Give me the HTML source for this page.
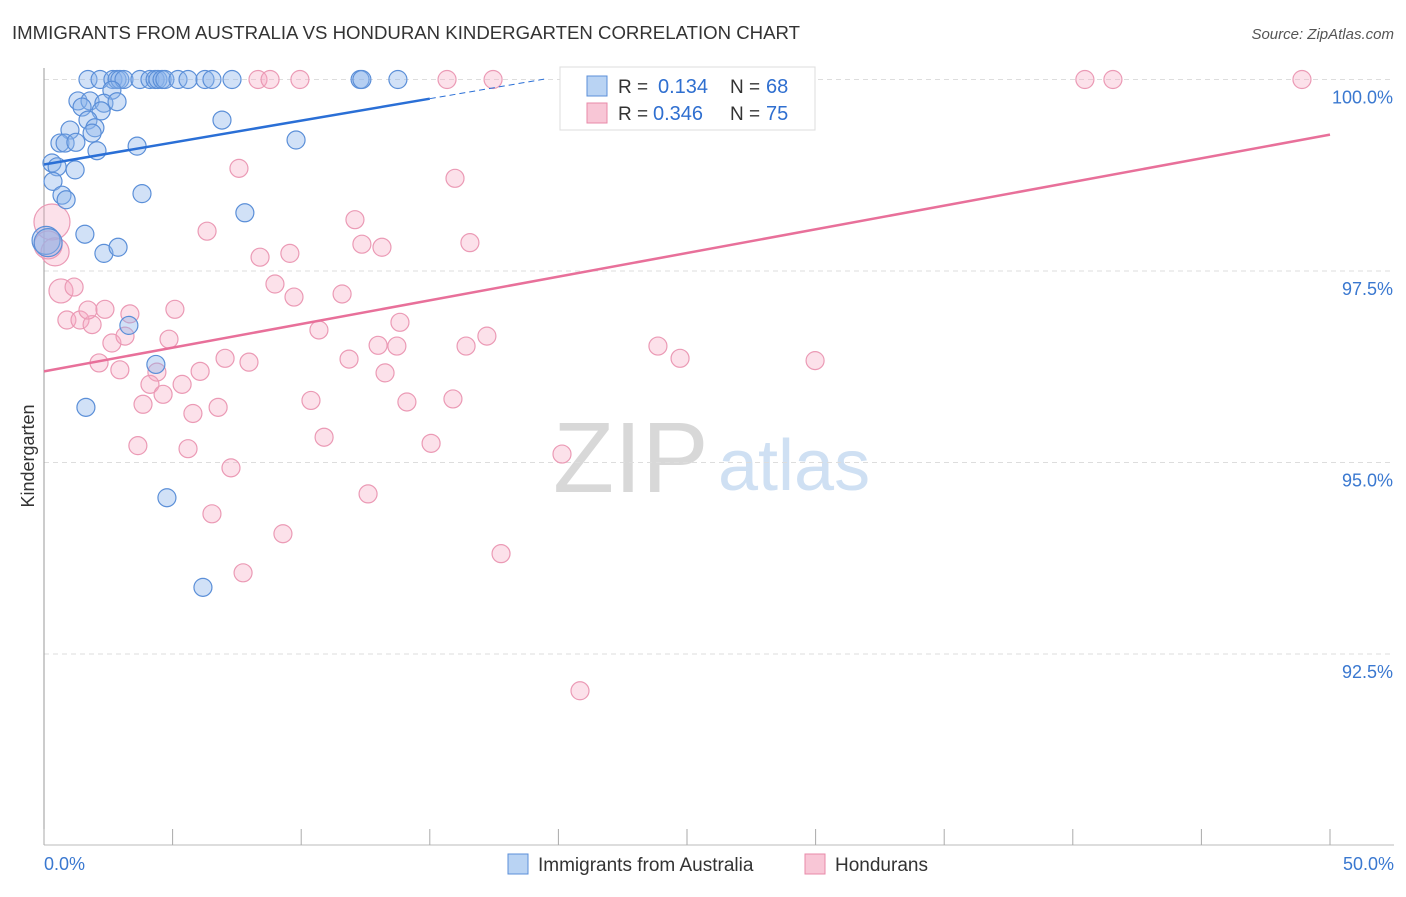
<!DOCTYPE html>
<html><head><meta charset="utf-8"><style>
body{margin:0;background:#fff;font-family:"Liberation Sans",sans-serif}
svg text{font-family:"Liberation Sans",sans-serif}
</style></head><body>
<svg id="c" width="1406" height="892">
<text x="12" y="39" font-size="18" fill="#333" textLength="788" lengthAdjust="spacingAndGlyphs">IMMIGRANTS FROM AUSTRALIA VS HONDURAN KINDERGARTEN CORRELATION CHART</text>
<text x="1394" y="39" font-size="15" fill="#555" font-style="italic" text-anchor="end">Source: ZipAtlas.com</text>
<text x="34" y="456" font-size="18" fill="#333" transform="rotate(-90 34 456)" text-anchor="middle">Kindergarten</text>
<g><text x="553" y="492" font-size="100" fill="#d8d8d8" font-family="Liberation Serif">ZIP</text><text x="718" y="490" font-size="72" fill="#cfe0f3">atlas</text></g>
<g id="grid"></g><g id="marks"></g>
<g>
<rect x="560" y="67" width="255" height="63" fill="#fff" stroke="#ddd"/>
<rect x="587" y="76" width="20" height="20" fill="#b9d3f3" stroke="#5b8fd8"/>
<rect x="587" y="103" width="20" height="20" fill="#f8c6d6" stroke="#e88aa8"/>
<text y="93" font-size="19" fill="#333"><tspan x="618">R =</tspan><tspan x="658" fill="#2f6fd0" font-size="20">0.134</tspan><tspan x="730">N =</tspan><tspan x="766" fill="#2f6fd0" font-size="20">68</tspan></text>
<text y="120" font-size="19" fill="#333"><tspan x="618">R =</tspan><tspan x="653" fill="#2f6fd0" font-size="20">0.346</tspan><tspan x="730">N =</tspan><tspan x="766" fill="#2f6fd0" font-size="20">75</tspan></text>
</g>
<g>
<rect x="508" y="854" width="20" height="20" fill="#b9d3f3" stroke="#5b8fd8"/>
<text x="538" y="871" font-size="19" fill="#333">Immigrants from Australia</text>
<rect x="805" y="854" width="20" height="20" fill="#f8c6d6" stroke="#e88aa8"/>
<text x="835" y="871" font-size="19" fill="#333">Hondurans</text>
</g>
</svg>
<script>
const yTicks=[100,97.5,95,92.5];
const yTickLabels=["100.0%","97.5%","95.0%","92.5%"];
const xEndLabels=["0.0%","50.0%"];
const blueX=[1.71,2.18,2.68,2.84,2.95,3.11,3.73,4.12,4.32,4.43,4.59,4.70,5.21,5.60,6.26,6.53,7.31,12.29,12.36,13.76,1.32,1.79,2.64,2.33,2.84,1.48,2.22,1.71,1.01,1.98,1.87,0.62,0.82,1.24,2.06,3.62,6.92,9.80,0.31,0.51,1.21,0.35,0.70,0.86,3.81,7.81,1.59,2.33,2.88,0.08,0.16,3.30,4.35,1.63,4.78,6.18];
const blueY=[100,100,100,100,100,100,100,100,100,100,100,100,100,100,100,100,100,100,100,100,99.72,99.72,99.86,99.69,99.71,99.64,99.59,99.47,99.34,99.37,99.30,99.17,99.17,99.18,99.07,99.13,99.47,99.21,98.91,98.86,98.82,98.67,98.49,98.43,98.51,98.26,97.98,97.73,97.81,97.90,97.87,96.79,96.28,95.72,94.54,93.37];
const pinkX=[8.32,8.79,9.95,15.67,17.46,28.23,40.47,41.56,48.91,0.31,0.43,0.16,7.58,15.98,6.34,12.09,12.36,13.14,16.56,8.40,9.56,8.98,9.72,11.59,0.66,1.17,0.89,1.40,1.87,1.71,2.37,3.34,5.09,2.64,3.15,4.86,10.69,13.84,17.22,12.99,13.72,16.41,23.87,24.73,29.98,2.14,2.95,4.39,6.07,7.04,7.97,11.86,13.26,4.12,5.37,3.85,4.63,5.79,6.77,10.38,14.11,15.90,3.65,5.60,10.89,15.05,20.14,7.27,12.60,6.53,9.29,17.77,7.74,20.84];
const pinkY=[100,100,100,100,100,100,100,100,100,98.14,97.75,97.84,98.84,98.71,98.02,98.17,97.85,97.81,97.87,97.68,97.73,97.33,97.16,97.20,97.24,97.29,96.86,96.86,96.80,96.99,97.00,96.94,97.00,96.56,96.65,96.61,96.73,96.83,96.65,96.53,96.52,96.52,96.52,96.36,96.33,96.30,96.21,96.18,96.19,96.36,96.31,96.35,96.17,96.02,96.02,95.76,95.89,95.64,95.72,95.81,95.79,95.83,95.22,95.18,95.33,95.25,95.11,94.93,94.59,94.33,94.07,93.81,93.56,92.02];
const blueLine=[98.89,0.0573];
const pinkLine=[96.19,0.0618];
const X=v=>44+v/50*1286, Y=v=>79.5+(100-v)*76.6;
const NS="http://www.w3.org/2000/svg";
function mk(p,t,a){const e=document.createElementNS(NS,t);for(const k in a)e.setAttribute(k,a[k]);p.appendChild(e);return e;}
const g=document.getElementById('grid'),m=document.getElementById('marks');
yTicks.forEach((t,i)=>{
 const l=mk(g,'line',{x1:44,x2:1394,y1:Y(t),y2:Y(t),stroke:'#ddd','stroke-dasharray':'5,4'});
 
 
 const tx=mk(g,'text',{x:1393,y:Y(t)+24,'font-size':18,fill:'#3a78d0','text-anchor':'end'});tx.textContent=yTickLabels[i];
 
 
});
const ax=mk(g,'line',{x1:44,x2:44,y1:68,y2:845,stroke:'#999'});


const bx=mk(g,'line',{x1:44,x2:1394,y1:845,y2:845,stroke:'#bbb'});


for(let i=0;i<=10;i++){const t=mk(g,'line',{x1:X(i*5),x2:X(i*5),y1:829,y2:845,stroke:'#aaa'});
 
 }
[[0,44,'start'],[50,1394,'end']].forEach((d,i)=>{const t=mk(g,'text',{x:d[1],y:870,'font-size':18,fill:'#3a78d0','text-anchor':d[2]});t.textContent=xEndLabels[i];
 
 });
function pts(xs,ys,fill,stroke,name){xs.forEach((x,i)=>{let r=9;
 if(x<0.5&&ys[i]<98.3&&ys[i]>97.7)r=14; if(name==='pink-point'&&x===0.31)r=18; if(name==='pink-point'&&x===0.66)r=12;
 const c=mk(m,'circle',{cx:X(x),cy:Y(ys[i]),r:r,fill:fill,stroke:stroke,'stroke-width':1.2});
 
 });}
pts(pinkX,pinkY,'rgba(246,170,195,0.35)','#eb9ab5','pink-point');
pts(blueX,blueY,'rgba(140,180,235,0.4)','#5b8fd8','blue-point');
const bl=mk(m,'line',{x1:X(0),y1:Y(blueLine[0]),x2:X(15),y2:Y(blueLine[0]+15*blueLine[1]),stroke:'#2a6fd6','stroke-width':2.5});


const bd=mk(m,'line',{x1:X(15),y1:Y(blueLine[0]+15*blueLine[1]),x2:X(19.5),y2:Y(blueLine[0]+19.5*blueLine[1]),stroke:'#2a6fd6','stroke-width':1,'stroke-dasharray':'6,4'});


const pl=mk(m,'line',{x1:X(0),y1:Y(pinkLine[0]),x2:X(50),y2:Y(pinkLine[0]+50*pinkLine[1]),stroke:'#e8709a','stroke-width':2.5});


</script>
</body></html>
